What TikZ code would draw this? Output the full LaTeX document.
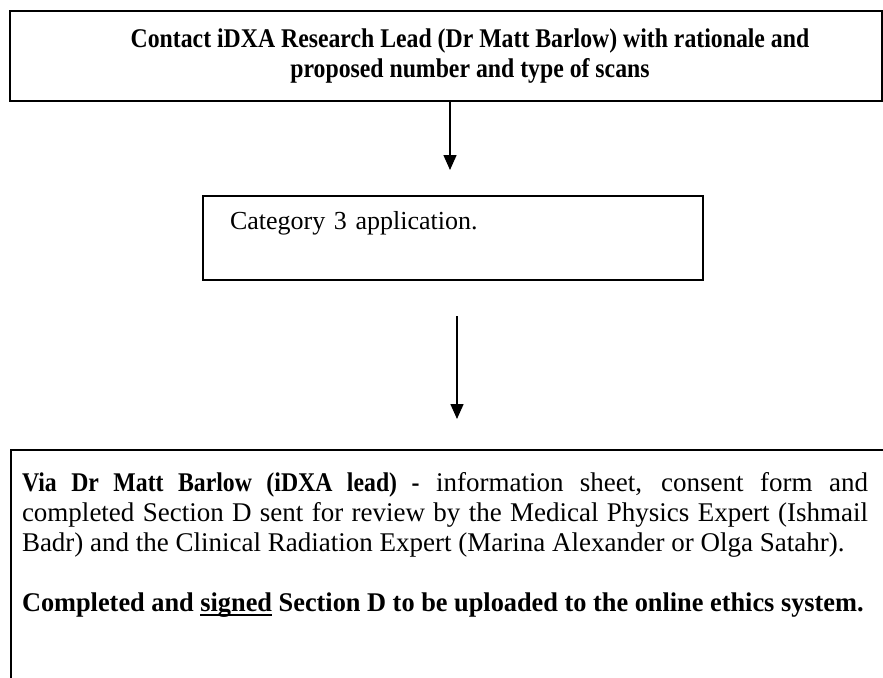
\documentclass[tikz,border=0pt]{standalone}
\usepackage{fontspec}
\setmainfont{Liberation Serif}[BoldFeatures={FakeStretch=0.88}]
\newfontface\plainbold{Liberation Serif Bold}[FakeStretch=0.975]
\newcommand\thickunderline[1]{\setbox0\hbox{#1}\rlap{\rule[-5pt]{\wd0}{2.2pt}}\box0\relax}
\usetikzlibrary{arrows.meta}
\begin{document}
\begin{tikzpicture}[x=1pt,y=-1pt,
  flowbox/.style={draw,line width=1.8pt,rectangle,outer sep=0pt,inner ysep=0pt,anchor=north west},
  flowarrow/.style={line width=1.5pt,-{Triangle[length=15pt,width=13pt]}}]
\clip (0,0) rectangle (883,677);
\fill[white] (0,0) rectangle (883,677);
%\draw[step=50,very thin,color=gray] (0,0) grid (883,677);
\node[flowbox,inner xsep=24pt,minimum height=90pt,
  font=\fontsize{27}{30}\selectfont\bfseries] (contact) at (10,11)
  {\hspace*{48pt}\parbox{776pt}{\centering Contact iDXA Research Lead (Dr Matt Barlow) with rationale and\\proposed number and type of scans}};
\node[flowbox,inner xsep=27pt,text width=446pt,text height=33pt,text depth=51pt,
  font=\fontsize{26}{30}\selectfont] (category) at (203,196) {Category 3 application.};
\node[flowbox,inner xsep=11pt,text height=41pt,text depth=260pt,
  font=\fontsize{27}{30}\selectfont] (review) at (11,450)
  {\parbox[t]{846pt}{\parindent=0pt
  \textbf{Via Dr Matt Barlow (iDXA lead) -} information sheet, consent form and\linebreak
  completed Section D sent for review by the Medical Physics Expert (Ishmail\linebreak
  Badr) and the Clinical Radiation Expert (Marina Alexander or Olga Satahr).\par
  \vspace{30pt}
  \mbox{\plainbold Completed and \thickunderline{signed} Section D to be uploaded to the online ethics system.}}\hspace*{40pt}};
\coordinate (arrowoneend) at (450,170);
\coordinate (arrowtwostart) at (457,316);
\coordinate (arrowtwoend) at (457,419);
\draw[flowarrow] (contact.south -| arrowoneend) -- (arrowoneend);
\draw[flowarrow] (arrowtwostart) -- (arrowtwoend);
\end{tikzpicture}
\end{document}
